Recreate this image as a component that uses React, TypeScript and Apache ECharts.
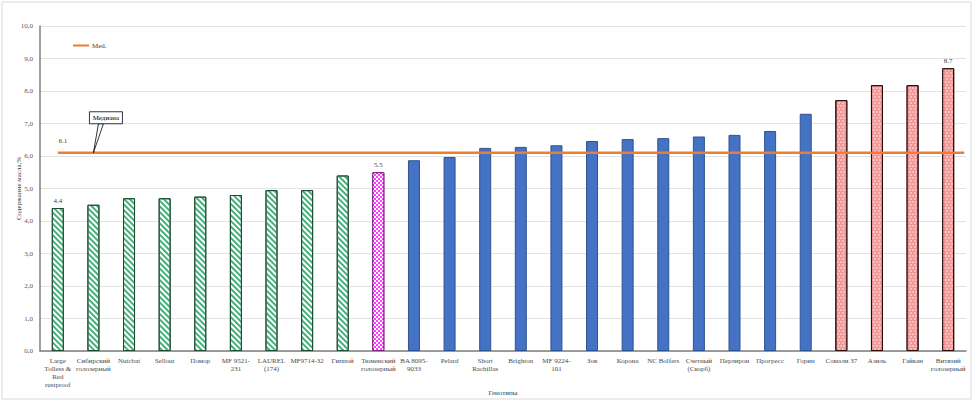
import React, { useEffect, useRef } from "react";
import * as echarts from "echarts";

const categories = [
  "Large\nTolless &\nRed\nrustproof",
  "Сибирский\nголозерный",
  "Nutcbat",
  "Sellout",
  "Помор",
  "MF 9521-\n231",
  "LAUREL\n(174)",
  "MF9714-32",
  "Гиппой",
  "Тюменский\nголозерный",
  "BA 8095-\n9033",
  "Pelard",
  "Short\nRachillas",
  "Brighton",
  "MF 9224-\n101",
  "Зов",
  "Корона",
  "NC Bolfers",
  "Счетный\n(Скорб)",
  "Перлирон",
  "Прогресс",
  "Горин",
  "Сомали 37",
  "Азиль",
  "Гайкан",
  "Витязий\nголозерный",
];

const values = [
  4.4, 4.5, 4.7, 4.7, 4.75, 4.8, 4.95, 4.95, 5.4, 5.5, 5.87, 5.97, 6.25, 6.28,
  6.33, 6.46, 6.52, 6.55, 6.6, 6.65, 6.77, 7.3, 7.72, 8.18, 8.18, 8.7,
];

const groups = [
  "g", "g", "g", "g", "g", "g", "g", "g", "g",
  "m",
  "b", "b", "b", "b", "b", "b", "b", "b", "b", "b", "b", "b",
  "r", "r", "r", "r",
];

const labeledIdx = [0, 9, 25];

const median = 6.1;
const medianSpan = [0.5, 25.95];
const calloutAt = 1.5;

const yMin = 0;
const yMax = 10;
const yStep = 1;

const FONT = "Liberation Serif";

const groupStyles: Record<string, any> = {
  g: {
    color: "#ffffff",
    borderColor: "#1d4a30",
    borderWidth: 1,
    decal: {
      symbol: "rect",
      symbolSize: 1,
      color: "#45b07a",
      dashArrayX: [1, 0],
      dashArrayY: [2, 2],
      rotation: Math.PI / 4,
    },
  },
  m: {
    color: "#ff3cff",
    borderColor: "#7a1f7a",
    borderWidth: 1,
    decal: {
      symbol: "rect",
      symbolSize: 1,
      color: "#ffffff",
      dashArrayX: [[2, 2], [0, 2, 2, 0]],
      dashArrayY: [2, 0],
      rotation: 0,
    },
  },
  b: {
    color: "#4472C4",
    borderColor: "#2F528F",
    borderWidth: 1,
  },
  r: {
    color: "#f29595",
    borderColor: "#2a0c0c",
    borderWidth: 1,
    decal: {
      symbol: "circle",
      symbolSize: 0.7,
      color: "#ffffff",
      dashArrayX: [[2, 1], [0, 1.5, 2, 0]],
      dashArrayY: [1.5, 0.5],
      rotation: 0,
    },
  },
};

export default function App() {
  const ref = useRef<HTMLDivElement>(null);

  useEffect(() => {
    if (!ref.current) return;
    const chart = echarts.init(ref.current, undefined, { renderer: "svg" });

    const barData = values.map((v, i) => ({
      value: v,
      itemStyle: groupStyles[groups[i]],
      label: { show: labeledIdx.includes(i) },
    }));

    const lineData = [
      {
        value: [medianSpan[0], median],
        label: {
          show: true,
          position: "top",
          offset: [5, -3],
          formatter: () => String(median),
          color: "#404040",
          fontFamily: FONT,
          fontSize: 7,
        },
      },
      { value: [medianSpan[1], median] },
    ];

    const option: any = {
      animation: false,
      backgroundColor: "#ffffff",
      textStyle: { fontFamily: FONT },
      grid: {
        left: 40,
        right: 8,
        top: 26,
        bottom: 51,
        containLabel: false,
        outerBoundsMode: "none",
      },
      legend: {
        left: 68,
        top: 37,
        data: [{ name: "Med.", icon: "rect" }],
        itemWidth: 16,
        itemHeight: 2,
        itemGap: 4,
        textStyle: { fontFamily: FONT, fontSize: 7, color: "#404040", padding: [0, 0, 0, -2] },
      },
      xAxis: [
        {
          type: "category",
          data: categories,
          name: "Генотипы",
          nameLocation: "middle",
          nameGap: 38,
          nameMoveOverlap: false,
          nameTextStyle: { fontFamily: FONT, fontSize: 7, color: "#404040" },
          axisLine: { lineStyle: { color: "#7f7f7f", width: 1.5 } },
          axisTick: { show: false },
          axisLabel: {
            interval: 0,
            fontFamily: FONT,
            fontSize: 7,
            lineHeight: 8,
            color: "#4a4a4a",
            margin: 6,
          },
        },
        {
          type: "value",
          min: 0,
          max: categories.length,
          show: false,
        },
      ],
      yAxis: {
        type: "value",
        min: yMin,
        max: yMax,
        interval: yStep,
        name: "Содержание масла,%",
        nameLocation: "middle",
        nameGap: 18,
        nameMoveOverlap: false,
        nameTextStyle: { fontFamily: FONT, fontSize: 7, color: "#404040" },
        axisLine: { show: true, lineStyle: { color: "#7f7f7f", width: 1.5 } },
        axisTick: { show: false },
        splitLine: { lineStyle: { color: "#e3e3e3", width: 1 } },
        axisLabel: {
          fontFamily: FONT,
          fontSize: 7,
          color: "#595959",
          margin: 7,
          formatter: (v: number) => v.toFixed(1).replace(".", ","),
        },
      },
      series: [
        {
          type: "bar",
          name: "Содержание",
          data: barData,
          barWidth: 12,
          xAxisIndex: 0,
          label: {
            position: "top",
            distance: 4,
            color: "#404040",
            fontFamily: FONT,
            fontSize: 7,
            formatter: (p: any) => String(p.value),
          },
          z: 2,
        },
        {
          type: "line",
          name: "Med.",
          xAxisIndex: 1,
          data: lineData,
          symbol: "circle",
          symbolSize: 0.01,
          showSymbol: true,
          lineStyle: { color: "#ED7D31", width: 2.5 },
          itemStyle: { color: "#ED7D31" },
          z: 3,
        },
      ],
    };

    chart.setOption(option);

    const p = chart.convertToPixel({ xAxisIndex: 1, yAxisIndex: 0 } as any, [calloutAt, median]) as number[];
    if (p) {
      const [px, py] = p;
      chart.setOption({
        graphic: [
          {
            type: "rect",
            silent: true,
            shape: { x: 2, y: 2, width: 969, height: 397 },
            style: { fill: "none", stroke: "#d9d9d9", lineWidth: 1 },
            z: 0,
          },
          {
            type: "polygon",
            silent: true,
            shape: { points: [[px + 5, py - 29], [px + 10, py - 29], [px, py]] },
            style: { fill: "#ffffff", stroke: "#000000", lineWidth: 0.8 },
            z: 10,
          },
          {
            type: "rect",
            silent: true,
            shape: { x: px - 4, y: py - 41, width: 33, height: 12 },
            style: { fill: "#ffffff", stroke: "#000000", lineWidth: 0.8 },
            z: 11,
          },
          {
            type: "text",
            silent: true,
            x: px + 12.5,
            y: py - 35,
            style: {
              text: "Медиана",
              fill: "#000000",
              font: `7px "${FONT}"`,
              align: "center",
              verticalAlign: "middle",
            },
            z: 12,
          },
        ],
      });
    }

    return () => chart.dispose();
  }, []);

  return (
    <div
      ref={ref}
      style={{ position: "absolute", left: 0, top: 0, width: 974, height: 402 }}
    />
  );
}
